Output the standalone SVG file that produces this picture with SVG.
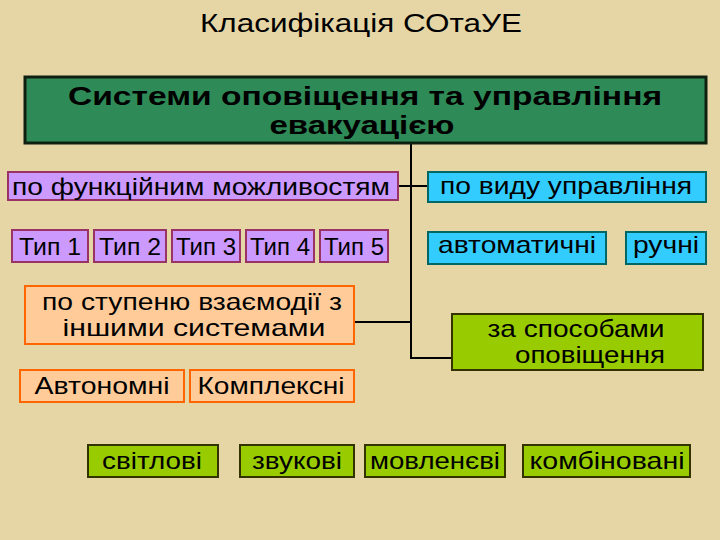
<svg xmlns="http://www.w3.org/2000/svg" width="720" height="540" viewBox="0 0 720 540">
<style>
text{font-family:"Liberation Sans",Arial,sans-serif;fill:#000;text-anchor:middle}
.t{font-size:24px}
.p{fill:#cc99ff;stroke:#993366;stroke-width:2}
.c{fill:#33ccff;stroke:#006666;stroke-width:2}
.o{fill:#ffcc99;stroke:#ff6600;stroke-width:2}
.g{fill:#99cc00;stroke:#333300;stroke-width:2}
</style>
<rect width="720" height="540" fill="#e6d6a6"/>
<text x="361" y="32" font-size="25" textLength="322" lengthAdjust="spacingAndGlyphs">Класифікація СОтаУЕ</text>
<g id="connectors" stroke="#000" stroke-width="2" fill="none">
<path d="M411 143V358H452M392 186H428M355 322H411"/>
</g>
<g id="root"><rect x="25" y="77" width="681" height="66" fill="#2e8b57" stroke="#102010" stroke-width="3"/>
<text x="365" y="105" font-size="26" font-weight="bold" textLength="594" lengthAdjust="spacingAndGlyphs">Системи оповіщення та управління</text>
<text x="362" y="134" font-size="26" font-weight="bold" textLength="185" lengthAdjust="spacingAndGlyphs">евакуацією</text></g>
<g id="func"><rect class="p" x="8" y="172" width="390" height="28"/><text class="t" x="201" y="195" textLength="378" lengthAdjust="spacingAndGlyphs">по функційним можливостям</text></g>
<g id="t1"><rect class="p" x="12" y="230" width="76" height="32"/><text class="t" x="50" y="255" textLength="62" lengthAdjust="spacingAndGlyphs">Тип 1</text></g>
<g id="t2"><rect class="p" x="94" y="230" width="72" height="32"/><text class="t" x="130" y="255" textLength="62" lengthAdjust="spacingAndGlyphs">Тип 2</text></g>
<g id="t3"><rect class="p" x="172" y="230" width="68" height="32"/><text class="t" x="206" y="255" textLength="60" lengthAdjust="spacingAndGlyphs">Тип 3</text></g>
<g id="t4"><rect class="p" x="246" y="230" width="68" height="32"/><text class="t" x="280" y="255" textLength="60" lengthAdjust="spacingAndGlyphs">Тип 4</text></g>
<g id="t5"><rect class="p" x="320" y="230" width="68" height="32"/><text class="t" x="354" y="255" textLength="60" lengthAdjust="spacingAndGlyphs">Тип 5</text></g>
<g id="vid"><rect class="c" x="428" y="172" width="278" height="30"/><text class="t" x="566" y="194" textLength="252" lengthAdjust="spacingAndGlyphs">по виду управління</text></g>
<g id="auto"><rect class="c" x="428" y="232" width="178" height="32"/><text class="t" x="517" y="253" textLength="158" lengthAdjust="spacingAndGlyphs">автоматичні</text></g>
<g id="man"><rect class="c" x="626" y="232" width="80" height="32"/><text class="t" x="666" y="253" textLength="66" lengthAdjust="spacingAndGlyphs">ручні</text></g>
<g id="step"><rect class="o" x="25" y="286" width="329" height="58"/><text class="t" x="192" y="310" textLength="300" lengthAdjust="spacingAndGlyphs">по ступеню взаємодії з</text><text class="t" x="194" y="336" textLength="263" lengthAdjust="spacingAndGlyphs">іншими системами</text></g>
<g id="auton"><rect class="o" x="20" y="370" width="164" height="32"/><text class="t" x="102" y="394" textLength="135" lengthAdjust="spacingAndGlyphs">Автономні</text></g>
<g id="compl"><rect class="o" x="190" y="370" width="164" height="32"/><text class="t" x="271" y="394" textLength="147" lengthAdjust="spacingAndGlyphs">Комплексні</text></g>
<g id="sposob"><rect class="g" x="452" y="314" width="251" height="56"/><text class="t" x="576" y="337" textLength="177" lengthAdjust="spacingAndGlyphs">за способами</text><text class="t" x="590" y="363" textLength="150" lengthAdjust="spacingAndGlyphs">оповіщення</text></g>
<g id="svit"><rect class="g" x="88" y="445" width="130" height="32"/><text class="t" x="152" y="469" textLength="100" lengthAdjust="spacingAndGlyphs">світлові</text></g>
<g id="zvuk"><rect class="g" x="240" y="445" width="114" height="32"/><text class="t" x="297" y="469" textLength="90" lengthAdjust="spacingAndGlyphs">звукові</text></g>
<g id="movl"><rect class="g" x="365" y="445" width="140" height="32"/><text class="t" x="435" y="469" textLength="130" lengthAdjust="spacingAndGlyphs">мовленєві</text></g>
<g id="komb"><rect class="g" x="523" y="445" width="167" height="32"/><text class="t" x="607" y="469" textLength="155" lengthAdjust="spacingAndGlyphs">комбіновані</text></g>
</svg>
